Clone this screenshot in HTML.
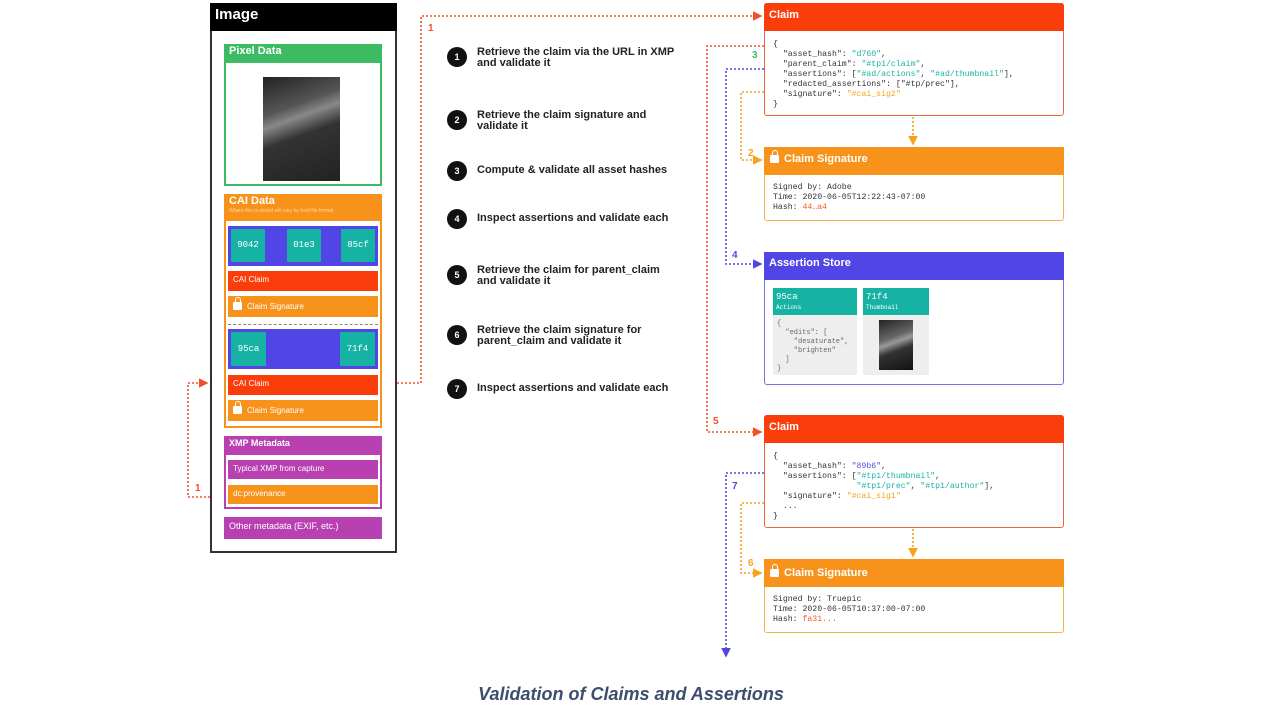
<!DOCTYPE html>
<html><head><meta charset="utf-8"><style>
*{margin:0;padding:0;box-sizing:border-box}
body{width:1280px;height:720px;background:#fff;position:relative;overflow:hidden;font-family:"Liberation Sans",sans-serif}
.a{position:absolute}
.hd{color:#fff;font-weight:bold;font-size:11px;padding-left:5px}
.mono{font-family:"Liberation Mono",monospace;font-size:8.2px;line-height:10px;color:#333;white-space:pre}
.step{position:absolute;left:447px;font-size:11px;font-weight:bold;color:#222;line-height:11px}
.step b{position:absolute;left:0;width:20px;height:20px;border-radius:50%;background:#111;color:#fff;font-size:9px;text-align:center;line-height:20px}
.step span{position:absolute;left:30px;width:220px}
.teal{background:#16b3a5;color:#fff;font-family:"Liberation Mono",monospace;font-size:9px;text-align:center}
.lock{display:inline-block;width:9px;height:8px;background:#fff;border-radius:1px;position:relative;margin-right:5px;vertical-align:-1px}
.lock:before{content:"";position:absolute;left:1.5px;top:-5px;width:4px;height:5px;border:1.5px solid #fff;border-bottom:none;border-radius:3px 3px 0 0}
</style></head><body>

<!-- Image box -->
<div class="a" style="left:210px;top:3px;width:187px;height:550px;border:2px solid #333;background:#fff"></div>
<div class="a" style="left:210px;top:3px;width:187px;height:28px;background:#000;color:#fff;font-weight:bold;font-size:15px;padding:3px 0 0 5px">Image</div>

<div class="a" style="left:224px;top:44px;width:158px;height:142px;border:2px solid #3dbb63"></div>
<div class="a hd" style="left:224px;top:44px;width:158px;height:19px;background:#3dbb63;line-height:15px">Pixel Data</div>
<div class="a" style="left:263px;top:77px;width:77px;height:104px;background:linear-gradient(160deg,#222 0%,#555 30%,#888 40%,#333 55%,#222 100%)"></div>

<div class="a" style="left:224px;top:194px;width:158px;height:234px;border:2px solid #f7931a;background:#fff"></div>
<div class="a hd" style="left:224px;top:194px;width:158px;height:27px;background:#f7931a;line-height:13px;padding-top:1px">CAI Data<br><span style="font-size:5px;font-weight:normal;color:#ffd9a0;line-height:6px;display:block">Where this is stored will vary by host file format</span></div>
<div class="a" style="left:228px;top:226px;width:150px;height:40px;background:#5146e5"></div>
<div class="a teal" style="left:231px;top:229px;width:34px;height:33px;line-height:33px">9042</div>
<div class="a teal" style="left:287px;top:229px;width:34px;height:33px;line-height:33px">01e3</div>
<div class="a teal" style="left:341px;top:229px;width:34px;height:33px;line-height:33px">85cf</div>
<div class="a hd" style="left:228px;top:271px;width:150px;height:20px;background:#fa3d0a;font-weight:normal;font-size:8px;line-height:18px">CAI Claim</div>
<div class="a hd" style="left:228px;top:296px;width:150px;height:21px;background:#f7931a;font-weight:normal;font-size:8px;line-height:21px"><i class="lock"></i>Claim Signature</div>
<div class="a" style="left:228px;top:324px;width:150px;border-top:1px dashed #888"></div>
<div class="a" style="left:228px;top:329px;width:150px;height:40px;background:#5146e5"></div>
<div class="a teal" style="left:231px;top:332px;width:35px;height:34px;line-height:34px">95ca</div>
<div class="a teal" style="left:340px;top:332px;width:35px;height:34px;line-height:34px">71f4</div>
<div class="a hd" style="left:228px;top:375px;width:150px;height:20px;background:#fa3d0a;font-weight:normal;font-size:8px;line-height:18px">CAI Claim</div>
<div class="a hd" style="left:228px;top:400px;width:150px;height:21px;background:#f7931a;font-weight:normal;font-size:8px;line-height:21px"><i class="lock"></i>Claim Signature</div>

<div class="a" style="left:224px;top:436px;width:158px;height:73px;border:2px solid #b840b0"></div>
<div class="a hd" style="left:224px;top:436px;width:158px;height:19px;background:#b840b0;font-size:9px;line-height:15px">XMP Metadata</div>
<div class="a hd" style="left:228px;top:460px;width:150px;height:19px;background:#b840b0;font-weight:normal;font-size:8px;line-height:17px">Typical XMP from capture</div>
<div class="a hd" style="left:228px;top:485px;width:150px;height:19px;background:#f7931a;font-weight:normal;font-size:8px;line-height:17px">dc:provenance</div>
<div class="a hd" style="left:224px;top:517px;width:158px;height:22px;background:#b840b0;font-weight:normal;font-size:9px;line-height:18px">Other metadata (EXIF, etc.)</div>

<!-- Steps -->
<div class="step" style="top:47px"><b>1</b><span>Retrieve the claim via the URL in XMP<br>and validate it</span></div>
<div class="step" style="top:110px"><b>2</b><span>Retrieve the claim signature and<br>validate it</span></div>
<div class="step" style="top:161px"><b>3</b><span style="top:4px">Compute &amp; validate all asset hashes</span></div>
<div class="step" style="top:209px"><b>4</b><span style="top:4px">Inspect assertions and validate each</span></div>
<div class="step" style="top:265px"><b>5</b><span>Retrieve the claim for parent_claim<br>and validate it</span></div>
<div class="step" style="top:325px"><b>6</b><span>Retrieve the claim signature for<br>parent_claim and validate it</span></div>
<div class="step" style="top:379px"><b>7</b><span style="top:4px">Inspect assertions and validate each</span></div>

<!-- Claim 1 -->
<div class="a" style="left:764px;top:3px;width:300px;height:113px;border:1.5px solid #f0643c;border-radius:3px;background:#fff"></div>
<div class="a hd" style="left:764px;top:3px;width:300px;height:28px;background:#fa3d0a;line-height:24px;border-radius:3px 3px 0 0">Claim</div>
<div class="a mono" style="left:773px;top:40px">{
  "asset_hash": <span style="color:#1bb3a5">"d760"</span>,
  "parent_claim": <span style="color:#1bb3a5">"#tp1/claim"</span>,
  "assertions": [<span style="color:#1bb3a5">"#ad/actions"</span>, <span style="color:#1bb3a5">"#ad/thumbnail"</span>],
  "redacted_assertions": ["#tp/prec"],
  "signature": <span style="color:#f7a21a">"#cai_sig2"</span>
}</div>

<!-- Sig 1 -->
<div class="a" style="left:764px;top:147px;width:300px;height:74px;border:1.5px solid #f7b04a;border-radius:3px"></div>
<div class="a hd" style="left:764px;top:147px;width:300px;height:28px;background:#f7931a;line-height:24px;padding-left:6px"><i class="lock"></i>Claim Signature</div>
<div class="a mono" style="left:773px;top:183px">Signed by: Adobe
Time: 2020-06-05T12:22:43-07:00
Hash: <span style="color:#f55a2a">44…a4</span></div>

<!-- Assertion store -->
<div class="a" style="left:764px;top:252px;width:300px;height:133px;border:1.5px solid #7a70e0;border-radius:3px"></div>
<div class="a hd" style="left:764px;top:252px;width:300px;height:28px;background:#5146e5;line-height:22px">Assertion Store</div>
<div class="a" style="left:773px;top:288px;width:84px;height:87px;background:#eee;border-radius:2px"></div>
<div class="a" style="left:773px;top:288px;width:84px;height:27px;background:#16b3a5;color:#fff;font-family:'Liberation Mono',monospace;font-size:9px;padding:4px 0 0 3px;line-height:10px">95ca<br><span style="font-size:6px">Actions</span></div>
<div class="a mono" style="left:777px;top:320px;font-size:7px;line-height:9px;color:#666">{
  "edits": [
    "desaturate",
    "brighten"
  ]
}</div>
<div class="a" style="left:863px;top:288px;width:66px;height:87px;background:#eee;border-radius:2px"></div>
<div class="a" style="left:863px;top:288px;width:66px;height:27px;background:#16b3a5;color:#fff;font-family:'Liberation Mono',monospace;font-size:9px;padding:4px 0 0 3px;line-height:10px">71f4<br><span style="font-size:6px">Thumbnail</span></div>
<div class="a" style="left:879px;top:320px;width:34px;height:50px;background:linear-gradient(160deg,#222 0%,#666 35%,#999 45%,#333 60%,#111 100%)"></div>

<!-- Claim 2 -->
<div class="a" style="left:764px;top:415px;width:300px;height:113px;border:1.5px solid #f0643c;border-radius:3px"></div>
<div class="a hd" style="left:764px;top:415px;width:300px;height:28px;background:#fa3d0a;line-height:24px;border-radius:3px 3px 0 0">Claim</div>
<div class="a mono" style="left:773px;top:452px">{
  "asset_hash": <span style="color:#5a50e0">"89b6"</span>,
  "assertions": [<span style="color:#1bb3a5">"#tp1/thumbnail"</span>,
                 <span style="color:#1bb3a5">"#tp1/prec"</span>, <span style="color:#1bb3a5">"#tp1/author"</span>],
  "signature": <span style="color:#f7a21a">"#cai_sig1"</span>
  ...
}</div>

<!-- Sig 2 -->
<div class="a" style="left:764px;top:559px;width:300px;height:74px;border:1.5px solid #f7b04a;border-radius:3px"></div>
<div class="a hd" style="left:764px;top:559px;width:300px;height:28px;background:#f7931a;line-height:28px;padding-left:6px"><i class="lock"></i>Claim Signature</div>
<div class="a mono" style="left:773px;top:595px">Signed by: Truepic
Time: 2020-06-05T10:37:00-07:00
Hash: <span style="color:#f55a2a">fa31...</span></div>

<svg class="a" style="left:0;top:0" width="1280" height="720">
<defs>
<marker id="mr" markerWidth="6" markerHeight="6" refX="5" refY="3" orient="auto"><path d="M0,0L6,3L0,6z" fill="#f0502a"/></marker>
<marker id="mo" markerWidth="6" markerHeight="6" refX="5" refY="3" orient="auto"><path d="M0,0L6,3L0,6z" fill="#f7a21a"/></marker>
<marker id="mb" markerWidth="6" markerHeight="6" refX="5" refY="3" orient="auto"><path d="M0,0L6,3L0,6z" fill="#5146e5"/></marker>
</defs>
<g fill="none" stroke-width="1.6" stroke-dasharray="2,2">
<path d="M397,383H421V16H761" stroke="#f0502a" marker-end="url(#mr)"/>
<path d="M210,497H188V383H207" stroke="#f0502a" marker-end="url(#mr)"/>
<path d="M764,46H707V432H761" stroke="#f0502a" marker-end="url(#mr)"/>
<path d="M764,69H726V264H761" stroke="#5146e5" marker-end="url(#mb)"/>
<path d="M764,92H741V160H761" stroke="#f7a21a" marker-end="url(#mo)"/>
<path d="M913,117V144" stroke="#f7a21a" marker-end="url(#mo)"/>
<path d="M764,473H726V656" stroke="#5146e5" marker-end="url(#mb)"/>
<path d="M764,503H741V573H761" stroke="#f7a21a" marker-end="url(#mo)"/>
<path d="M913,529V556" stroke="#f7a21a" marker-end="url(#mo)"/>
</g>
<g font-family="Liberation Sans" font-weight="bold" font-size="10">
<text x="428" y="31" fill="#f0502a">1</text>
<text x="195" y="491" fill="#f0502a">1</text>
<text x="752" y="58" fill="#3dbb63">3</text>
<text x="748" y="156" fill="#f7a21a">2</text>
<text x="732" y="258" fill="#5146e5">4</text>
<text x="713" y="424" fill="#f0502a">5</text>
<text x="732" y="489" fill="#5146e5">7</text>
<text x="748" y="566" fill="#f7a21a">6</text>
</g>
</svg>

<div class="a" style="left:0;width:1262px;top:684px;text-align:center;font-size:18px;font-style:italic;font-weight:bold;color:#3d4d6e">Validation of Claims and Assertions</div>
</body></html>
